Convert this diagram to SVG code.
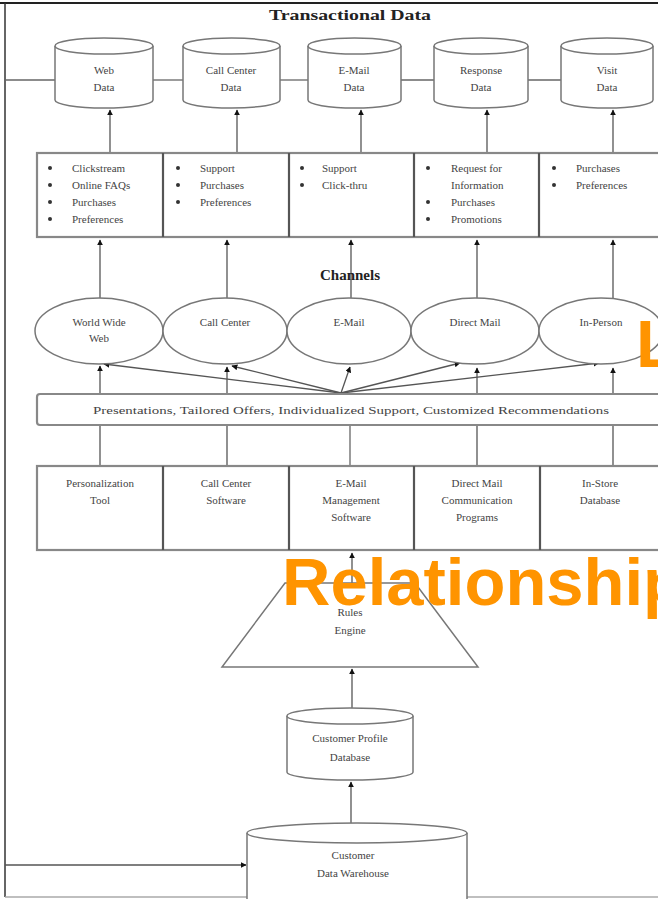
<svg xmlns="http://www.w3.org/2000/svg" width="658" height="899" viewBox="0 0 658 899">
<defs>
<marker id="ah" viewBox="0 0 10 10" refX="9" refY="5" markerWidth="6" markerHeight="6" orient="auto" markerUnits="userSpaceOnUse"><path d="M0,0 L10,5 L0,10 z" fill="#111"/></marker>
</defs>
<style>
.t{font-family:"Liberation Serif","Times New Roman",serif;font-size:11px;fill:#444}
.tc{font-family:"Liberation Serif","Times New Roman",serif;font-size:11px;fill:#444;text-anchor:middle}
.h{font-family:"Liberation Serif","Times New Roman",serif;font-size:15px;font-weight:bold;fill:#222;text-anchor:middle}
.shape{fill:#fff;stroke:#777;stroke-width:1.5}
.box{fill:#fff;stroke:#888;stroke-width:2.2}
.div{stroke:#555;stroke-width:2.2}
.ln{stroke:#666;stroke-width:1.3;fill:none}
.arr{stroke:#555;stroke-width:1.3;fill:none;marker-end:url(#ah)}
.wm{font-family:"Liberation Sans",Arial,sans-serif;font-weight:bold;font-size:67px;fill:#FF9400}
</style>
<rect width="658" height="899" fill="#fff"/>
<g id="frame">
<line x1="0" y1="3" x2="658" y2="3" stroke="#222" stroke-width="2"/>
<line x1="5" y1="3" x2="5" y2="897" stroke="#333" stroke-width="1.5"/>
<line x1="5" y1="897" x2="658" y2="897" stroke="#aaa" stroke-width="1.5"/>
</g>
<g id="connectors">
<line class="ln" x1="5" y1="80" x2="55" y2="80"/>
<line class="ln" x1="153" y1="80" x2="183" y2="80"/>
<line class="ln" x1="280" y1="80" x2="308" y2="80"/>
<line class="ln" x1="401" y1="80" x2="434" y2="80"/>
<line class="ln" x1="528" y1="80" x2="561" y2="80"/>
<line class="arr" x1="110" y1="152" x2="110" y2="110"/>
<line class="arr" x1="237" y1="152" x2="237" y2="110"/>
<line class="arr" x1="361" y1="152" x2="361" y2="110"/>
<line class="arr" x1="487" y1="152" x2="487" y2="110"/>
<line class="arr" x1="613" y1="152" x2="613" y2="110"/>
<line class="arr" x1="100" y1="298" x2="100" y2="240"/>
<line class="arr" x1="227" y1="298" x2="227" y2="240"/>
<line class="arr" x1="351" y1="298" x2="351" y2="240"/>
<line class="arr" x1="477" y1="298" x2="477" y2="240"/>
<line class="arr" x1="613" y1="298" x2="613" y2="240"/>
<line class="arr" x1="100" y1="466" x2="100" y2="366"/>
<line class="arr" x1="227" y1="466" x2="227" y2="367"/>
<line class="ln" x1="350" y1="466" x2="350" y2="425"/>
<line class="arr" x1="477" y1="466" x2="477" y2="368"/>
<line class="arr" x1="613" y1="466" x2="613" y2="368"/>
<line class="arr" x1="341" y1="393" x2="104" y2="364"/>
<line class="arr" x1="341" y1="393" x2="232" y2="366"/>
<line class="arr" x1="341" y1="393" x2="350" y2="367"/>
<line class="arr" x1="341" y1="393" x2="460" y2="363"/>
<line class="arr" x1="341" y1="393" x2="599" y2="363"/>
<line class="arr" x1="352" y1="583" x2="352" y2="553"/>
<line class="arr" x1="352" y1="708" x2="352" y2="669"/>
<line class="arr" x1="351" y1="823" x2="351" y2="782"/>
<line class="arr" x1="5" y1="865" x2="246" y2="865"/>
</g>
<text class="h" x="350" y="20" textLength="162" lengthAdjust="spacingAndGlyphs">Transactional Data</text>
<g id="web-data">
<path class="shape" d="M55,46 L55,100 A49,8 0 0 0 153,100 L153,46"/>
<ellipse class="shape" cx="104" cy="46" rx="49" ry="8"/>
<text class="tc" x="104" y="74">Web</text><text class="tc" x="104" y="91">Data</text>
</g>
<g id="call-center-data">
<path class="shape" d="M183,46 L183,100 A48.5,8 0 0 0 280,100 L280,46"/>
<ellipse class="shape" cx="231.5" cy="46" rx="48.5" ry="8"/>
<text class="tc" x="231" y="74">Call Center</text><text class="tc" x="231" y="91">Data</text>
</g>
<g id="email-data">
<path class="shape" d="M308,46 L308,100 A46.5,8 0 0 0 401,100 L401,46"/>
<ellipse class="shape" cx="354.5" cy="46" rx="46.5" ry="8"/>
<text class="tc" x="354" y="74">E-Mail</text><text class="tc" x="354" y="91">Data</text>
</g>
<g id="response-data">
<path class="shape" d="M434,46 L434,100 A47,8 0 0 0 528,100 L528,46"/>
<ellipse class="shape" cx="481" cy="46" rx="47" ry="8"/>
<text class="tc" x="481" y="74">Response</text><text class="tc" x="481" y="91">Data</text>
</g>
<g id="visit-data">
<path class="shape" d="M561,46 L561,100 A46,8 0 0 0 653,100 L653,46"/>
<ellipse class="shape" cx="607" cy="46" rx="46" ry="8"/>
<text class="tc" x="607" y="74">Visit</text><text class="tc" x="607" y="91">Data</text>
</g>
<g id="data-types">
<rect class="box" x="37" y="153" width="640" height="84"/>
<line class="div" x1="163" y1="153" x2="163" y2="237"/>
<line class="div" x1="289" y1="153" x2="289" y2="237"/>
<line class="div" x1="414" y1="153" x2="414" y2="237"/>
<line class="div" x1="539" y1="153" x2="539" y2="237"/>
<g fill="#333">
<circle cx="50" cy="168" r="2"/><circle cx="50" cy="185" r="2"/><circle cx="50" cy="202" r="2"/><circle cx="50" cy="219" r="2"/>
<circle cx="178" cy="168" r="2"/><circle cx="178" cy="185" r="2"/><circle cx="178" cy="202" r="2"/>
<circle cx="302" cy="168" r="2"/><circle cx="302" cy="185" r="2"/>
<circle cx="428" cy="168" r="2"/><circle cx="428" cy="202" r="2"/><circle cx="428" cy="219" r="2"/>
<circle cx="554" cy="168" r="2"/><circle cx="554" cy="185" r="2"/>
</g>
<text class="t" x="72" y="172">Clickstream</text><text class="t" x="72" y="189">Online FAQs</text><text class="t" x="72" y="206">Purchases</text><text class="t" x="72" y="223">Preferences</text>
<text class="t" x="200" y="172">Support</text><text class="t" x="200" y="189">Purchases</text><text class="t" x="200" y="206">Preferences</text>
<text class="t" x="322" y="172">Support</text><text class="t" x="322" y="189">Click-thru</text>
<text class="t" x="451" y="172">Request for</text><text class="t" x="451" y="189">Information</text><text class="t" x="451" y="206">Purchases</text><text class="t" x="451" y="223">Promotions</text>
<text class="t" x="576" y="172">Purchases</text><text class="t" x="576" y="189">Preferences</text>
</g>
<text class="h" x="350" y="280">Channels</text>
<g id="www"><ellipse class="shape" cx="99" cy="331" rx="64" ry="33"/><text class="tc" x="99" y="326">World Wide</text><text class="tc" x="99" y="342">Web</text></g>
<g id="call-center"><ellipse class="shape" cx="225" cy="331" rx="62" ry="33"/><text class="tc" x="225" y="326">Call Center</text></g>
<g id="email"><ellipse class="shape" cx="349" cy="331" rx="62" ry="33"/><text class="tc" x="349" y="326">E-Mail</text></g>
<g id="direct-mail"><ellipse class="shape" cx="475" cy="331" rx="64" ry="33"/><text class="tc" x="475" y="326">Direct Mail</text></g>
<g id="in-person"><ellipse class="shape" cx="601" cy="331" rx="62" ry="33"/><text class="tc" x="601" y="326">In-Person</text></g>
<g id="personalization-bar">
<rect class="box" x="37" y="394" width="640" height="31" rx="3"/>
<text class="tc" x="351" y="414" textLength="516" lengthAdjust="spacingAndGlyphs">Presentations, Tailored Offers, Individualized Support, Customized Recommendations</text>
</g>
<g id="tools">
<rect class="box" x="37" y="466" width="640" height="84"/>
<line class="div" x1="163" y1="466" x2="163" y2="550"/>
<line class="div" x1="289" y1="466" x2="289" y2="550"/>
<line class="div" x1="414" y1="466" x2="414" y2="550"/>
<line class="div" x1="540" y1="466" x2="540" y2="550"/>
<text class="tc" x="100" y="487">Personalization</text><text class="tc" x="100" y="504">Tool</text>
<text class="tc" x="226" y="487">Call Center</text><text class="tc" x="226" y="504">Software</text>
<text class="tc" x="351" y="487">E-Mail</text><text class="tc" x="351" y="504">Management</text><text class="tc" x="351" y="521">Software</text>
<text class="tc" x="477" y="487">Direct Mail</text><text class="tc" x="477" y="504">Communication</text><text class="tc" x="477" y="521">Programs</text>
<text class="tc" x="600" y="487">In-Store</text><text class="tc" x="600" y="504">Database</text>
</g>
<g id="rules-engine">
<polygon class="shape" points="285,583 415,583 478,667 222,667"/>
<text class="tc" x="350" y="616">Rules</text><text class="tc" x="350" y="634">Engine</text>
</g>
<g id="customer-profile">
<path class="shape" d="M287,716 L287,772 A63,8 0 0 0 413,772 L413,716"/>
<ellipse class="shape" cx="350" cy="716" rx="63" ry="8"/>
<text class="tc" x="350" y="742">Customer Profile</text><text class="tc" x="350" y="761">Database</text>
</g>
<g id="data-warehouse">
<path class="shape" d="M247,833 L247,905 L467,905 L467,833"/>
<ellipse class="shape" cx="357" cy="833" rx="110" ry="10"/>
<text class="tc" x="353" y="859">Customer</text><text class="tc" x="353" y="877">Data Warehouse</text>
</g>
<text class="wm" x="636" y="367">L</text>
<text class="wm" x="282" y="605">Relationship</text>
</svg>
